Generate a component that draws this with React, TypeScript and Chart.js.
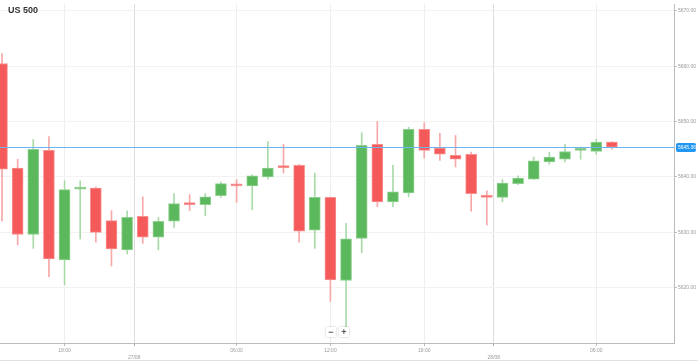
import React, { useEffect, useRef } from 'react';
import { Chart, registerables } from 'chart.js';
Chart.register(...registerables);

const opens = [5660.5, 5641.6, 5629.6, 5644.8, 5625.0, 5637.8, 5638.0, 5632.1, 5626.8, 5632.9, 5629.1, 5632.0, 5635.2, 5635.0, 5636.6, 5638.6, 5638.4, 5640.0, 5641.9, 5642.1, 5630.4, 5636.3, 5621.3, 5628.9, 5645.9, 5635.5, 5637.1, 5648.6, 5645.2, 5643.9, 5644.1, 5636.6, 5636.3, 5638.8, 5639.6, 5642.7, 5643.2, 5644.8, 5644.6, 5646.3];
const highs = [5662.3, 5643.2, 5646.8, 5647.3, 5639.3, 5639.3, 5638.2, 5633.9, 5633.9, 5636.4, 5632.7, 5637.0, 5636.8, 5637.0, 5639.1, 5639.5, 5640.4, 5646.4, 5645.9, 5642.3, 5640.7, 5636.4, 5631.6, 5648.0, 5650.0, 5642.1, 5649.0, 5649.8, 5647.9, 5647.5, 5644.5, 5637.5, 5639.5, 5640.2, 5643.6, 5644.5, 5645.9, 5645.4, 5646.8, 5646.4];
const lows = [5632.0, 5627.7, 5627.1, 5622.0, 5620.5, 5628.8, 5628.2, 5623.9, 5626.1, 5628.0, 5626.8, 5630.9, 5633.9, 5633.0, 5636.3, 5635.4, 5634.1, 5639.6, 5640.7, 5628.2, 5627.1, 5617.5, 5612.9, 5626.3, 5634.6, 5634.6, 5636.4, 5643.4, 5643.0, 5641.8, 5633.8, 5631.3, 5635.5, 5638.6, 5639.5, 5642.3, 5642.7, 5643.2, 5644.1, 5645.0];
const closes = [5641.4, 5629.6, 5645.0, 5625.2, 5637.7, 5638.0, 5630.0, 5627.0, 5632.7, 5629.1, 5632.0, 5635.2, 5635.0, 5636.4, 5638.8, 5638.4, 5640.2, 5641.6, 5641.7, 5630.2, 5636.3, 5621.4, 5628.8, 5645.7, 5635.5, 5637.3, 5648.6, 5644.8, 5644.1, 5643.2, 5637.0, 5636.3, 5638.9, 5639.8, 5642.9, 5643.6, 5644.6, 5645.0, 5646.3, 5645.36];

const xTickPositions = [4, 8.45, 15, 21, 27, 31.45, 38];
const xTickLabels = ['18:00', '27/08', '06:00', '12:00', '18:00', '28/08', '06:00'];
const xTickIsDate = [false, true, false, false, false, true, false];
const yTicks = [5620, 5630, 5640, 5650, 5660, 5670];
const chartTitle = 'US 500';

const UP = '#5cb85c';
const UP_BORDER = '#8fd08f';
const UP_WICK = '#a9dba9';
const DOWN = '#f55a5a';
const DOWN_BORDER = '#f89090';
const DOWN_WICK = '#f7a8a8';

const priceLinePlugin = {
  id: 'priceLine',
  afterDatasetsDraw(chart: any) {
    const { ctx, chartArea, scales } = chart;
    const last = closes[closes.length - 1];
    const y = Math.round(scales.y.getPixelForValue(last)) + 0.5;
    ctx.save();
    ctx.globalAlpha = 1;
    ctx.setLineDash([]);
    ctx.strokeStyle = '#6cb4f0';
    ctx.lineWidth = 1;
    ctx.beginPath();
    ctx.moveTo(chartArea.left, y);
    ctx.lineTo(chartArea.right, y);
    ctx.stroke();
    const bx = chartArea.right + 2;
    const bw = 20;
    const bh = 9;
    ctx.fillStyle = '#2196f3';
    ctx.beginPath();
    if ((ctx as any).roundRect) (ctx as any).roundRect(bx, y - bh / 2, bw, bh, 2);
    else ctx.rect(bx, y - bh / 2, bw, bh);
    ctx.fill();
    ctx.fillStyle = '#ffffff';
    ctx.font = '5px "Liberation Sans", Arial, sans-serif';
    ctx.textBaseline = 'middle';
    ctx.textAlign = 'left';
    ctx.fillText(last.toFixed(2), bx + 2, y);
    ctx.restore();
  },
};

export default function App() {
  const ref = useRef<HTMLCanvasElement | null>(null);
  useEffect(() => {
    if (!ref.current) return;
    const isUp = (i: number) => closes[i] >= opens[i];
    const chart = new Chart(ref.current, {
      type: 'bar',
      data: {
        datasets: [
          {
            label: 'wick',
            data: closes.map((_, i) => ({ x: i, y: [lows[i], highs[i]] })) as any,
            backgroundColor: closes.map((_, i) => (isUp(i) ? UP_WICK : DOWN_WICK)),
            barThickness: 1,
            grouped: false,
            order: 2,
          } as any,
          {
            label: 'body',
            data: closes.map((c, i) => ({ x: i, y: [opens[i], c] })) as any,
            backgroundColor: closes.map((_, i) => (isUp(i) ? UP : DOWN)),
            borderColor: closes.map((_, i) => (isUp(i) ? UP_BORDER : DOWN_BORDER)),
            borderWidth: 1,
            borderSkipped: false,
            barThickness: 11,
            minBarLength: 2,
            grouped: false,
            order: 1,
          } as any,
        ],
      },
      options: {
        animation: false,
        responsive: false,
        devicePixelRatio: 1,
        layout: { padding: 0 },
        plugins: { legend: { display: false }, tooltip: { enabled: false } },
        scales: {
          x: {
            type: 'linear',
            offset: false,
            min: -0.128,
            max: 42.97,
            afterBuildTicks: (scale: any) => {
              scale.ticks = xTickPositions.map((v) => ({ value: v }));
            },
            afterFit: (scale: any) => {
              scale.height = 20;
            },
            ticks: {
              autoSkip: false,
              maxRotation: 0,
              padding: 1,
              color: '#999',
              font: { size: 5, family: '"Liberation Sans", Arial, sans-serif', lineHeight: 1.4 },
              callback: (_v: any, index: number) =>
                xTickIsDate[index] ? ['', xTickLabels[index]] : xTickLabels[index],
            },
            grid: {
              offset: false,
              color: (ctx: any) => (xTickIsDate[ctx.index] ? '#dcdcdc' : '#eeeeee'),
              tickColor: (ctx: any) => (xTickIsDate[ctx.index] ? '#aaaaaa' : '#bbbbbb'),
              tickLength: 3,
            },
            border: { display: true, color: '#bbbbbb' },
          },
          y: {
            type: 'linear',
            position: 'right',
            min: 5610,
            max: 5671.25,
            afterBuildTicks: (scale: any) => {
              scale.ticks = yTicks.map((v) => ({ value: v }));
            },
            afterFit: (scale: any) => {
              scale.width = 24;
            },
            ticks: {
              padding: 1,
              color: '#999',
              font: { size: 5, family: '"Liberation Sans", Arial, sans-serif' },
              callback: (v: any) => Number(v).toFixed(2),
            },
            grid: { color: '#f2f2f2', tickColor: '#bbbbbb', tickLength: 3 },
            border: { display: true, color: '#bbbbbb' },
          },
        },
      },
      plugins: [priceLinePlugin],
    });
    return () => chart.destroy();
  }, []);

  const btn: React.CSSProperties = {
    position: 'absolute',
    top: 327,
    width: 10,
    height: 10,
    background: '#fff',
    boxShadow: '0 0 2px rgba(0,0,0,0.25)',
    color: '#555',
    font: 'bold 9px "Liberation Sans", Arial, sans-serif',
    lineHeight: '10px',
    textAlign: 'center',
  };

  return (
    <div style={{ position: 'fixed', left: 0, top: 0, width: 698, height: 363, background: '#fff', overflow: 'hidden' }}>
      <canvas ref={ref} width={698} height={363} style={{ display: 'block', width: 698, height: 363 }} />
      <div
        style={{
          position: 'absolute',
          left: 8,
          top: 5,
          font: 'bold 9px "Liberation Sans", Arial, sans-serif',
          lineHeight: '10px',
          color: '#333',
        }}
      >
        {chartTitle}
      </div>
      <div style={{ ...btn, left: 326 }}>−</div>
      <div style={{ ...btn, left: 339 }}>+</div>
      <div style={{ position: 'absolute', left: 0, top: 360, width: 698, height: 1, background: '#e3e3e3' }} />
    </div>
  );
}
